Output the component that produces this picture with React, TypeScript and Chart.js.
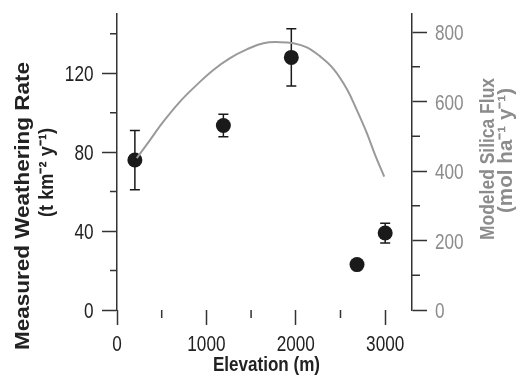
import React, { useEffect, useRef } from 'react';
import { Chart, registerables } from 'chart.js';
Chart.register(...registerables);

// Measured weathering rate (t km^-2 y^-1) vs elevation (m)
const elevation = [200, 1190, 1950, 2685, 3000];
const weatheringRate = [76, 93.5, 128, 23, 39];
const weatheringErr = [15, 5.7, 14.5, 0, 5];

// Modeled silica flux curve (mol ha^-1 y^-1)
const curveElevation = [221, 369, 518, 705, 892, 1078, 1265, 1452, 1638, 1825, 1974, 2124, 2272, 2421, 2571, 2687, 2795, 2888, 2989];
const silicaFlux = [437, 489, 542, 600, 648, 691, 725, 750, 768, 771, 768, 756, 730, 694, 636, 573, 509, 446, 384];

// Tick values and labels
const xTickValues = [0, 500, 1000, 1500, 2000, 2500, 3000];
const xTickLabels = ['0', '1000', '2000', '3000'];
const leftTickValues = [0, 20, 40, 60, 80, 100, 120, 140];
const leftTickLabels = ['0', '40', '80', '120'];
const rightTickValues = [0, 100, 200, 300, 400, 500, 600, 700, 800];
const rightTickLabels = ['0', '200', '400', '600', '800'];

const AXIS = '#333333';
const GRAY = '#8c8c8c';
const FONT = '"Liberation Sans", Arial, sans-serif';
const NARROW = 0.78;

function drawFitText(ctx: CanvasRenderingContext2D, text: string, cx: number, cy: number, len: number, font: string, color: string, rot: number) {
  ctx.save();
  ctx.font = font;
  ctx.fillStyle = color;
  ctx.textAlign = 'center';
  ctx.textBaseline = 'middle';
  const w = ctx.measureText(text).width;
  ctx.translate(cx, cy);
  ctx.rotate(rot);
  ctx.scale(len / w, 1);
  ctx.fillText(text, 0, 0);
  ctx.restore();
}

function drawNarrow(ctx: CanvasRenderingContext2D, text: string, x: number, baseline: number, align: 'left' | 'right' | 'center', color: string) {
  ctx.save();
  ctx.font = `22px ${FONT}`;
  ctx.fillStyle = color;
  ctx.textAlign = align;
  ctx.textBaseline = 'alphabetic';
  ctx.translate(x, baseline);
  ctx.scale(NARROW, 1);
  ctx.fillText(text, 0, 0);
  ctx.restore();
}

const extrasPlugin = {
  id: 'extras',
  beforeDatasetsDraw(chart: any) {
    const { ctx, scales } = chart;
    const x = scales.x, y = scales.y;
    ctx.save();
    ctx.strokeStyle = '#1a1a1a';
    ctx.lineWidth = 1.5;
    elevation.forEach((e, i) => {
      const err = weatheringErr[i];
      if (!err) return;
      const px = x.getPixelForValue(e);
      const top = y.getPixelForValue(weatheringRate[i] + err);
      const bot = y.getPixelForValue(weatheringRate[i] - err);
      ctx.beginPath();
      ctx.moveTo(px, top); ctx.lineTo(px, bot);
      ctx.moveTo(px - 5, top); ctx.lineTo(px + 5, top);
      ctx.moveTo(px - 5, bot); ctx.lineTo(px + 5, bot);
      ctx.stroke();
    });
    ctx.restore();
  },
  afterDraw(chart: any) {
    const { ctx, scales, chartArea } = chart;
    ctx.save();
    ctx.strokeStyle = AXIS;
    ctx.lineWidth = 1.5;
    ctx.beginPath();
    xTickValues.forEach((v) => {
      if (xTickLabels.includes(String(v))) return;
      const px = scales.x.getPixelForValue(v);
      ctx.moveTo(px, chartArea.bottom); ctx.lineTo(px, chartArea.bottom + 8);
    });
    leftTickValues.forEach((v) => {
      if (leftTickLabels.includes(String(v))) return;
      const py = scales.y.getPixelForValue(v);
      ctx.moveTo(chartArea.left, py); ctx.lineTo(chartArea.left - 7, py);
    });
    rightTickValues.forEach((v) => {
      if (rightTickLabels.includes(String(v))) return;
      const py = scales.y2.getPixelForValue(v);
      ctx.moveTo(chartArea.right, py); ctx.lineTo(chartArea.right + 8, py);
    });
    ctx.stroke();
    ctx.restore();

    // tick labels (condensed)
    xTickLabels.forEach((l) => {
      drawNarrow(ctx, l, scales.x.getPixelForValue(Number(l)), chartArea.bottom + 40.5, 'center', '#222222');
    });
    leftTickLabels.forEach((l) => {
      drawNarrow(ctx, l, chartArea.left - 23.5, scales.y.getPixelForValue(Number(l)) + 8, 'right', '#222222');
    });
    rightTickLabels.forEach((l) => {
      drawNarrow(ctx, l, chartArea.right + 23, scales.y2.getPixelForValue(Number(l)) + 8, 'left', GRAY);
    });

    drawFitText(ctx, 'Measured Weathering Rate', 23, 206, 288, `bold 21px ${FONT}`, '#222222', -Math.PI / 2);
    drawFitText(ctx, '(t km\u207B\u00B2 y\u207B\u00B9)', 47, 172.5, 89, `bold 21px ${FONT}`, '#222222', -Math.PI / 2);
    drawFitText(ctx, 'Modeled Silica Flux', 488.5, 159, 162, `bold 21px ${FONT}`, GRAY, -Math.PI / 2);
    drawFitText(ctx, '(mol ha\u207B\u00B9 y\u207B\u00B9)', 506, 150.5, 125, `bold 21px ${FONT}`, GRAY, -Math.PI / 2);
    drawFitText(ctx, 'Elevation (m)', 266.5, 365, 107, `bold 20px ${FONT}`, '#222222', 0);
  },
};

const setTicks = (values: number[]) => (s: any) => {
  s.ticks = values.map((v) => ({ value: v }));
};

const majorColor = (labels: string[]) => (c: any) =>
  c.tick && labels.includes(String(c.tick.value)) ? AXIS : 'transparent';

export default function App() {
  const ref = useRef<HTMLCanvasElement>(null);
  useEffect(() => {
    if (!ref.current) return;
    const chart = new Chart(ref.current, {
      type: 'scatter',
      data: {
        datasets: [
          {
            label: 'Modeled Silica Flux',
            data: curveElevation.map((e, i) => ({ x: e, y: silicaFlux[i] })),
            yAxisID: 'y2',
            showLine: true,
            borderColor: '#9a9a9a',
            borderWidth: 2,
            pointRadius: 0,
            tension: 0.4,
            fill: false,
          } as any,
          {
            label: 'Measured Weathering Rate',
            data: elevation.map((e, i) => ({ x: e, y: weatheringRate[i] })),
            yAxisID: 'y',
            pointRadius: 7.5,
            pointBackgroundColor: '#1a1a1a',
            pointBorderColor: '#1a1a1a',
            pointBorderWidth: 0,
          },
        ],
      },
      options: {
        animation: false,
        responsive: false,
        layout: { padding: { top: 14, left: 0, right: 0, bottom: 0 } },
        plugins: { legend: { display: false }, tooltip: { enabled: false } },
        scales: {
          x: {
            type: 'linear',
            min: 0,
            max: 3300,
            afterBuildTicks: setTicks(xTickValues),
            afterFit: (s: any) => { s.height = 73; },
            border: { display: false },
            grid: { drawOnChartArea: false, tickLength: 15, tickWidth: 1.5, tickColor: majorColor(xTickLabels) },
            ticks: { display: false },
          },
          y: {
            type: 'linear',
            position: 'left',
            min: 0,
            max: 150,
            afterBuildTicks: setTicks(leftTickValues),
            afterFit: (s: any) => { s.width = 117; },
            border: { display: true, color: AXIS, width: 1.5 },
            grid: { drawOnChartArea: false, tickLength: 15, tickWidth: 1.5, tickColor: majorColor(leftTickLabels) },
            ticks: { display: false },
          },
          y2: {
            type: 'linear',
            position: 'right',
            min: 0,
            max: 852,
            afterBuildTicks: setTicks(rightTickValues),
            afterFit: (s: any) => { s.width = 113; },
            border: { display: true, color: AXIS, width: 1.5 },
            grid: { drawOnChartArea: false, tickLength: 15, tickWidth: 1.5, tickColor: majorColor(rightTickLabels) },
            ticks: { display: false },
          },
        },
      },
      plugins: [extrasPlugin],
    });
    return () => chart.destroy();
  }, []);

  return (
    <div style={{ position: 'absolute', left: 0, top: 0, width: 525, height: 383, background: '#fff' }}>
      <canvas ref={ref} width={525} height={383} />
    </div>
  );
}
